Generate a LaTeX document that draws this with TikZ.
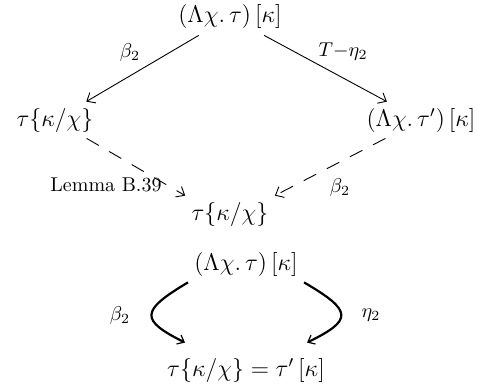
\documentclass[tikz,border=0pt]{standalone}
\usetikzlibrary{arrows.meta,calc}
\begin{document}
\begin{tikzpicture}[x=0.5pt,y=-0.5pt,
  obj/.style={font=\large, inner sep=3pt},
  lab/.style={font=\normalsize, inner sep=0pt},
  arr/.style={-{Straight Barb[length=3.5pt,width=6pt]}, line width=0.45pt},
  dsh/.style={arr, dash pattern=on 7pt off 6pt},
  curvearr/.style={-{Straight Barb[length=3pt,width=5pt,line width=0.6pt]}, line width=1.1pt}]
\useasboundingbox (0,0) rectangle (490,385);
\node[obj] (top) at (230,17) {$(\Lambda\chi.\,\tau)\,[\kappa]$};
\node[obj] (l) at (55,120) {$\tau\{\kappa/\chi\}$};
\node[obj] (r) at (421,120) {$(\Lambda\chi.\,\tau')\,[\kappa]$};
\node[obj] (m) at (230,214) {$\tau\{\kappa/\chi\}$};
\node[obj] (t2) at (246,264) {$(\Lambda\chi.\,\tau)\,[\kappa]$};
\node[obj] (b) at (246,370) {$\tau\{\kappa/\chi\} = \tau'\,[\kappa]$};
\draw[arr] (top) -- (l);
\draw[arr] (top) -- (r);
\draw[dsh] (l) -- (m.north west);
\draw[dsh] (r) -- (m.north east);
\coordinate (bl) at ($(b.north)+(-61,-9)$);
\coordinate (br) at ($(b.north)+(61,-9)$);
\draw[curvearr] (t2.south west) .. controls (140,311) and (140,320) .. (bl);
\draw[curvearr] (t2.south east) .. controls (353,311) and (353,320) .. (br);
\node[lab] (l1) at (130,53) {$\beta_2$};
\node[lab] (l2) at (343,52) {$T{-}\eta_2$};
\node[lab] (l3) at (106,185) {Lemma B.39};
\node[lab] (l4) at (340,187) {$\beta_2$};
\node[lab] (l5) at (120,315) {$\beta_2$};
\node[lab] (l6) at (371,315) {$\eta_2$};
\end{tikzpicture}
\end{document}
